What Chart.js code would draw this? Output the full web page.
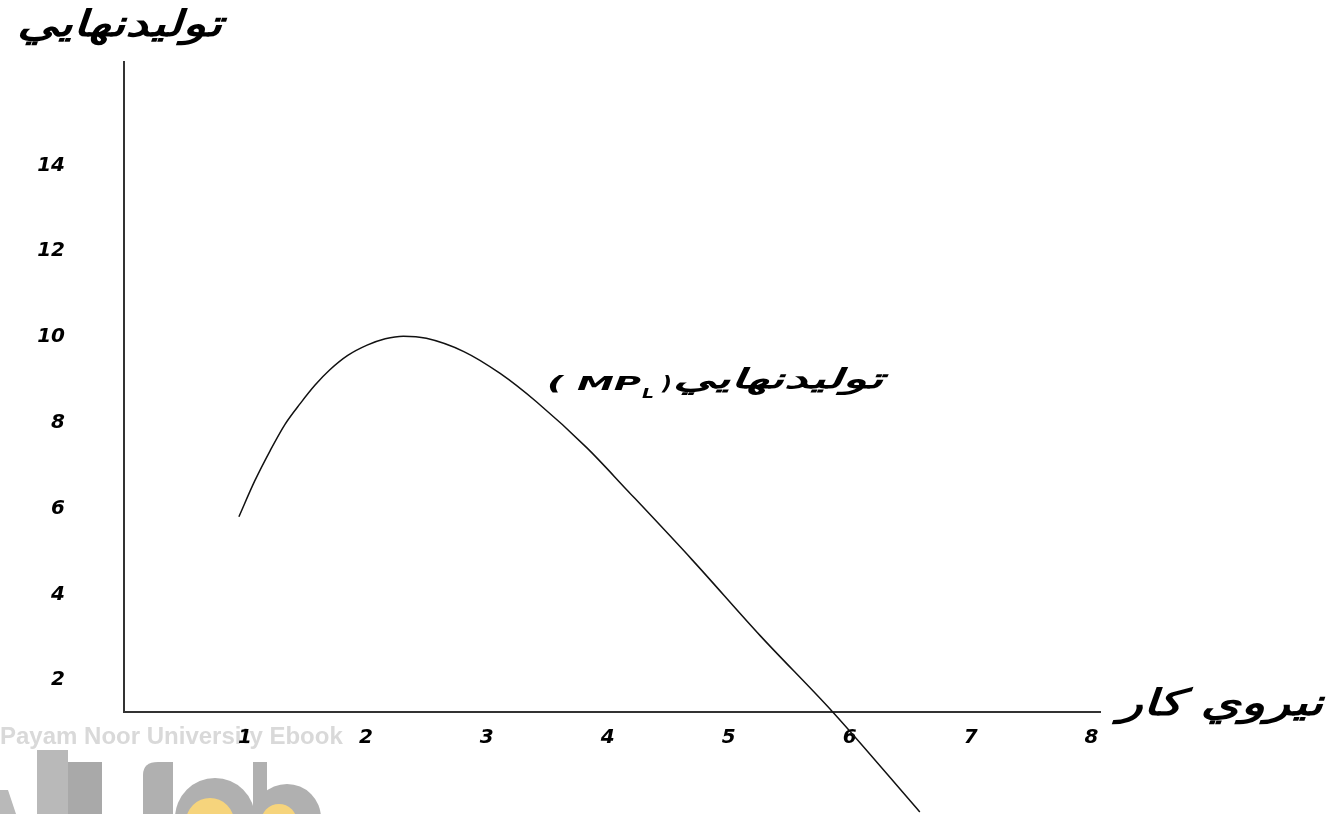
<!DOCTYPE html>
<html>
<head>
<meta charset="utf-8">
<script src="https://cdn.jsdelivr.net/npm/chart.js@4.4.0/dist/chart.umd.min.js"></script>
<style>
  html, body { margin: 0; padding: 0; background: #fff; }
  #wrap { width: 1337px; height: 814px; }
</style>
</head>
<body>
<div id="wrap"><canvas id="mpChart" width="1337" height="814"></canvas></div>
<script>
// Marginal product of labour curve
const laborUnits = [0.95, 1.08, 1.21, 1.33, 1.46, 1.58, 1.70, 1.85, 2.01, 2.16, 2.31, 2.50, 2.81, 3.11, 3.41, 3.83, 4.16, 4.70, 5.26, 5.86, 6.58];
const marginalProduct = [5.81, 6.64, 7.36, 7.96, 8.46, 8.88, 9.23, 9.57, 9.81, 9.96, 10.02, 9.97, 9.66, 9.15, 8.49, 7.41, 6.43, 4.80, 3.04, 1.26, -1.07];
const xTicks = [1, 2, 3, 4, 5, 6, 7, 8];
const yTicks = [2, 4, 6, 8, 10, 12, 14];

const yTitle = 'توليدنهايي';
const xTitle = 'نيروي كار';
const curveLabel = 'توليدنهايي';

const points = laborUnits.map((x, i) => ({ x: x, y: marginalProduct[i] }));

// draw text squeezed/stretched horizontally to a given width
function drawWide(ctx, text, x, y, width, size) {
    ctx.save();
    ctx.font = 'italic bold ' + size + 'px "DejaVu Sans"';
    const k = width / ctx.measureText(text).width;
    ctx.translate(x, y);
    ctx.scale(k, 1);
    ctx.textAlign = 'left';
    ctx.textBaseline = 'middle';
    ctx.fillText(text, 0, 0);
    ctx.restore();
}

const watermark = {
    id: 'watermark',
    beforeDraw(chart) {
        const ctx = chart.ctx;
        ctx.save();
        ctx.fillStyle = '#d9d9d9';
        ctx.font = 'bold 24px "Liberation Sans"';
        ctx.textBaseline = 'middle';
        ctx.textAlign = 'left';
        ctx.fillText('Payam Noor University Ebook', 0, 737);

        // partly cut-off logo at the bottom
        ctx.fillStyle = '#b9b9b9';
        ctx.beginPath();
        ctx.moveTo(0, 790); ctx.lineTo(8, 790); ctx.lineTo(16, 814); ctx.lineTo(0, 814);
        ctx.fill();
        ctx.fillRect(37, 750, 31, 64);
        ctx.fillStyle = '#a9a9a9';
        ctx.fillRect(68, 762, 34, 52);
        ctx.fillStyle = '#b0b0b0';
        ctx.beginPath();
        ctx.moveTo(143, 814); ctx.lineTo(143, 775);
        ctx.quadraticCurveTo(143, 762, 158, 762);
        ctx.lineTo(173, 762); ctx.lineTo(173, 814);
        ctx.fill();
        ctx.beginPath();
        ctx.arc(215, 818, 40, 0, Math.PI * 2);
        ctx.fill();
        ctx.fillRect(253, 762, 14, 52);
        ctx.beginPath();
        ctx.arc(287, 818, 34, 0, Math.PI * 2);
        ctx.fill();
        ctx.fillStyle = '#f6d47c';
        ctx.beginPath();
        ctx.arc(210, 822, 24, 0, Math.PI * 2);
        ctx.fill();
        ctx.beginPath();
        ctx.arc(279, 822, 18, 0, Math.PI * 2);
        ctx.fill();
        ctx.restore();
    }
};

const labels = {
    id: 'labels',
    afterDraw(chart) {
        const ctx = chart.ctx;
        ctx.save();
        ctx.fillStyle = '#000';

        // axis titles
        drawWide(ctx, yTitle, 17, 27, 205, 36);
        drawWide(ctx, xTitle, 1118, 706, 205, 36);

        // curve label: ( MP_L ) then the Persian words
        drawWide(ctx, curveLabel, 673, 381, 210, 27);
        drawWide(ctx, '( MP', 547, 385, 94, 20);
        drawWide(ctx, 'L', 642, 394, 12, 14);
        drawWide(ctx, ')', 662, 385, 10, 20);
        ctx.restore();
    }
};

const tickFont = { family: 'DejaVu Sans', size: 20, weight: 'bold', style: 'italic' };

new Chart(document.getElementById('mpChart'), {
    type: 'line',
    data: {
        datasets: [{
            data: points,
            borderColor: '#111',
            borderWidth: 1.5,
            pointRadius: 0,
            cubicInterpolationMode: 'monotone',
            clip: false
        }]
    },
    options: {
        responsive: false,
        animation: false,
        devicePixelRatio: 1,
        layout: { padding: { left: 0, top: 62, right: 237, bottom: 52 } },
        plugins: {
            legend: { display: false },
            tooltip: { enabled: false }
        },
        scales: {
            x: {
                type: 'linear',
                min: 0,
                max: 8.07,
                grid: { display: false, drawTicks: false },
                border: { display: true, color: '#333', width: 2 },
                afterBuildTicks: (scale) => { scale.ticks = xTicks.map(v => ({ value: v })); },
                afterFit: (scale) => {
                    scale.height = 50;
                    scale.paddingLeft = 0;
                    scale.paddingRight = 0;
                },
                ticks: { color: '#000', font: tickFont, padding: 14 }
            },
            y: {
                type: 'linear',
                min: 1.26,
                max: 16.41,
                grid: { display: false, drawTicks: false },
                border: { display: true, color: '#333', width: 2 },
                afterBuildTicks: (scale) => { scale.ticks = yTicks.map(v => ({ value: v })); },
                afterFit: (scale) => {
                    scale.width = 124;
                    scale.paddingTop = 0;
                    scale.paddingBottom = 0;
                },
                ticks: { color: '#000', font: tickFont, padding: 59 }
            }
        }
    },
    plugins: [watermark, labels]
});
</script>
</body>
</html>
